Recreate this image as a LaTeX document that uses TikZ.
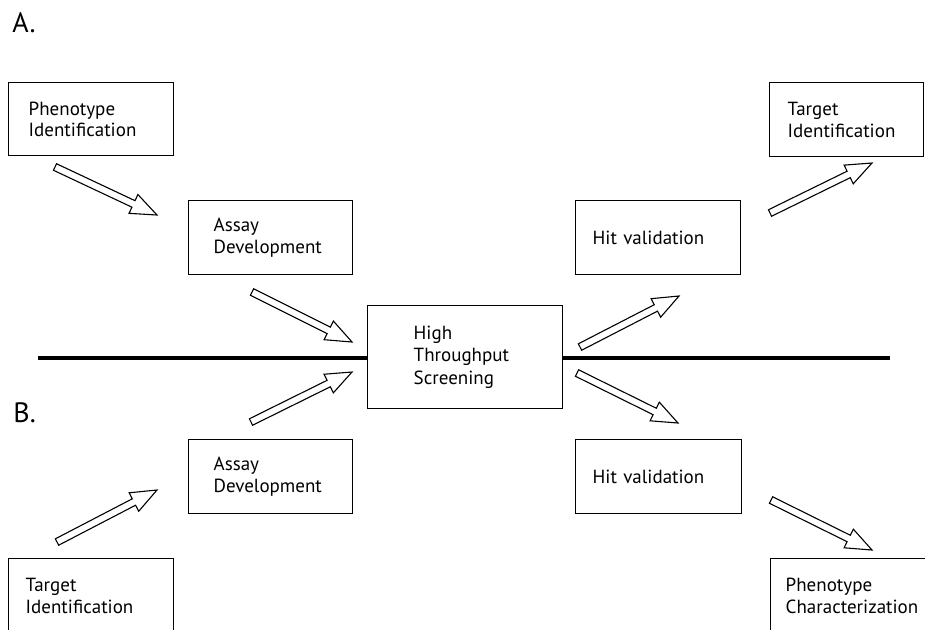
\documentclass[tikz,border=0pt]{standalone}
\usepackage{fontspec}
\setmainfont{PT Sans}
\usepackage{tikz}
\usetikzlibrary{calc}
\tikzstyle{box} = [draw=black, line width=0.7pt, align=left, anchor=north west, inner ysep=0pt, font=\fontsize{9.5}{10.8}\selectfont]
\tikzstyle{hollow} = [draw=black, fill=white, line width=0.55pt, line join=miter]
\tikzstyle{axis} = [line width=2.2pt]
\tikzstyle{panel} = [anchor=base west, inner sep=0pt, font=\fontsize{14}{16}\selectfont]
\def\shaftw{1.8pt}
\def\headw{5.2pt}
\def\headl{13pt}
% open block arrow from #1 (tail) to #2 (tip)
\newcommand{\hollowarrow}[2]{%
\draw[hollow] ($(#1)!\shaftw!-90:(#2)$)
  -- ($(#2)!\headl!(#1)!\shaftw!-90:(#2)$)
  -- ($(#2)!\headl!(#1)!\headw!-90:(#2)$)
  -- (#2)
  -- ($(#2)!\headl!(#1)!\headw!90:(#2)$)
  -- ($(#2)!\headl!(#1)!\shaftw!90:(#2)$)
  -- ($(#1)!\shaftw!90:(#2)$) -- cycle;}

\begin{document}
\begin{tikzpicture}[x=0.5pt, y=-0.5pt]
\useasboundingbox (0,0) rectangle (925,629);
\clip (0,0) rectangle (925,629);

\node[panel] (labA) at (12,32) {A.};
\node[panel] (labB) at (13,422) {B.};

% panel A
\node[box, minimum height=36.5pt, inner xsep=10pt, text width=62.5pt] (phenoid) at (8,82) {Phenotype\\Identification};
\node[box, minimum height=37pt, inner xsep=12.5pt, text width=57pt] (assayA) at (188,200) {Assay\\Development};
\node[box, minimum height=37pt, inner xsep=8.5pt, text width=65.5pt] (hitA) at (575,200) {Hit validation};
\node[box, minimum height=37pt, inner xsep=9pt, text width=59pt] (targetA) at (769,82) {Target\\Identification};

% screening step
\node[box, minimum height=51.5pt, inner xsep=23pt, text width=51.5pt, font=\fontsize{9.5}{11.3}\selectfont] (hts) at (367,305) {High\\Throughput\\Screening};

% panel B
\node[box, minimum height=37pt, inner xsep=12.5pt, text width=57pt] (assayB) at (188,439) {Assay\\Development};
\node[box, minimum height=37pt, inner xsep=8.5pt, text width=66pt] (hitB) at (575,439) {Hit validation};
\node[box, minimum height=37pt, inner xsep=8.5pt, text width=65.5pt] (targetB) at (8,558) {Target\\Identification};
\node[box, minimum height=37pt, inner xsep=7.5pt, text width=67.5pt] (phenochar) at (770,558) {Phenotype\\Characterization};

% dividing line
\coordinate (axisL) at (38,358);
\coordinate (axisR) at (890,358);
\draw[axis] (axisL) -- (axisL -| hts.west);
\draw[axis] (hts.east |- axisR) -- (axisR);

% arrow ends
\coordinate (a1t) at (55,167);  \coordinate (a1h) at (157,215);
\coordinate (a2t) at (252,292); \coordinate (a2h) at (352,342);
\coordinate (a3t) at (580,347); \coordinate (a3h) at (679,296);
\coordinate (a4t) at (770,213); \coordinate (a4h) at (872,163);
\coordinate (b1t) at (57,542);  \coordinate (b1h) at (157,490);
\coordinate (b2t) at (251,422); \coordinate (b2h) at (352,372);
\coordinate (b3t) at (577,373); \coordinate (b3h) at (678,423);
\coordinate (b4t) at (771,500); \coordinate (b4h) at (872,550);

\hollowarrow{a1t}{a1h}
\hollowarrow{a2t}{a2h}
\hollowarrow{a3t}{a3h}
\hollowarrow{a4t}{a4h}
\hollowarrow{b1t}{b1h}
\hollowarrow{b2t}{b2h}
\hollowarrow{b3t}{b3h}
\hollowarrow{b4t}{b4h}

\end{tikzpicture}
\end{document}
